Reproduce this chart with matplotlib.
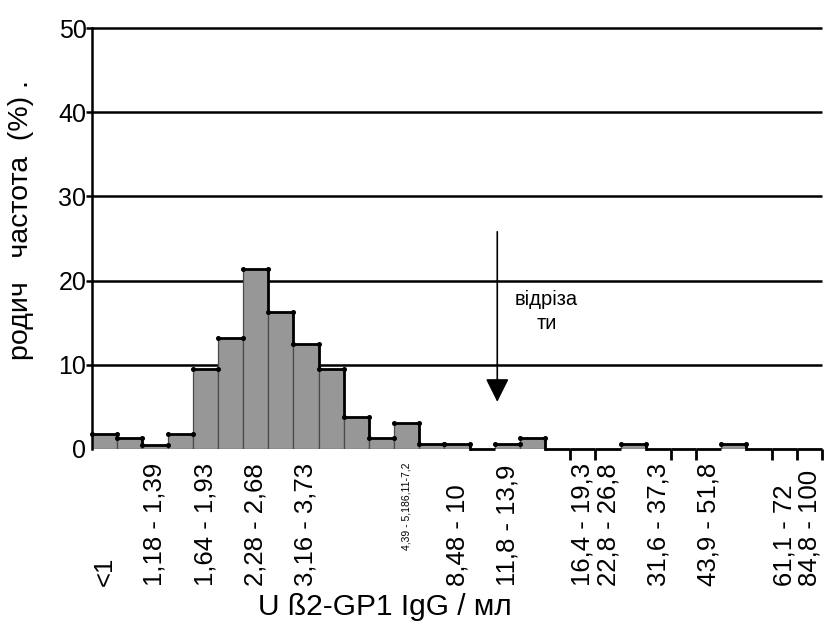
import matplotlib
matplotlib.use("Agg")
import matplotlib.pyplot as plt
import numpy as np

plt.rcParams['font.family'] = ['Liberation Sans', 'DejaVu Sans']

# Relative frequency (%) of each concentration bin
freq = [1.8, 1.3, 0.5, 1.8, 9.5, 13.2, 21.4, 16.3, 12.5, 9.5, 3.8, 1.3, 3.1,
        0.6, 0.6, 0.0, 0.6, 1.3, 0.0, 0.0, 0.0, 0.6, 0.0, 0.0, 0.0, 0.6,
        0.0, 0.0, 0.0]

# Bins that carry a range label, and the labels themselves
label_bins = [0, 2, 4, 6, 8, 14, 16, 19, 20, 22, 24, 27, 28]
bin_labels = ["<1", "1,18 - 1,39", "1,64 - 1,93", "2,28 - 2,68", "3,16 - 3,73",
              "8,48 - 10", "11,8 - 13,9", "16,4 - 19,3", "22,8 - 26,8",
              "31,6 - 37,3", "43,9 - 51,8", "61,1 - 72", "84,8 - 100"]
small_label_bin = 12
small_label = "4,39 - 5,186,11-7,2"

# Bin edges marked on the zero line
edge_marks = [19, 20, 23, 24, 27, 28, 29]

y_ticks = [0, 10, 20, 30, 40, 50]

# Cut-off arrow
cutoff_x = 16.1
cutoff_top = 25.8
cutoff_tip = 5.6

n = len(freq)
left = np.arange(n)

fig = plt.figure(figsize=(8.35, 6.26), dpi=100)
ax = fig.add_axes([92 / 835, 1 - 449 / 626, 730 / 835, 421 / 626])
ax.set_xlim(0, n)
ax.set_ylim(0, 50)

# horizontal grid lines, poking out left of the axis like tick marks
ax.hlines(y_ticks[1:], -0.25, n, colors='black', lw=1.8, zorder=1, clip_on=False)

# bars
ax.bar(left, freq, width=1.0, align='edge', color='#979797',
       edgecolor='#4a4a4a', linewidth=0.9, zorder=2)

# heavy step outline on the tops
for i, h in enumerate(freq):
    ax.plot([i, i + 1], [h, h], color='black', lw=2.0, zorder=3,
            clip_on=False, solid_capstyle='butt')
    nxt = freq[i + 1] if i + 1 < n else 0.0
    if nxt < h:
        ax.plot([i + 1, i + 1], [h, nxt], color='black', lw=2.0, zorder=3,
                clip_on=False)
    if h > 0:
        ax.plot([i, i + 1], [h, h], 'o', color='black', ms=2.6, zorder=4,
                clip_on=False)

# cut-off arrow and its caption
ax.annotate('', xy=(cutoff_x, cutoff_tip), xytext=(cutoff_x, cutoff_top),
            arrowprops=dict(arrowstyle='-|>,head_length=0.4,head_width=0.2',
                            mutation_scale=36, lw=1.2, color='black',
                            shrinkA=0, shrinkB=0), zorder=5)
ax.text(18.05, 16.3, "відріза\nти", ha='center', va='center', fontsize=14.5,
        linespacing=1.35, zorder=5)

# spines
for s in ['top', 'right', 'bottom']:
    ax.spines[s].set_visible(False)
ax.spines['left'].set_linewidth(1.8)
ax.spines['left'].set_zorder(4)

# y ticks
ax.set_yticks(y_ticks)
ax.set_yticklabels([str(v) for v in y_ticks], fontsize=18)
ax.tick_params(axis='y', length=0, pad=4)

# x axis: edge marks as minor ticks, range labels as text
ax.set_xticks([])
ax.set_xticks(edge_marks, minor=True)
ax.tick_params(axis='x', which='minor', length=8, width=2, direction='out',
               color='black')

xtr = ax.get_xaxis_transform()
for b, lab in zip(label_bins, bin_labels):
    ax.text(b + 0.5, (449 - 586) / 421, lab, transform=xtr, rotation=90,
            ha='center', va='bottom', fontsize=18.5)
ax.text(small_label_bin + 0.5, (449 - 462) / 421, small_label, transform=xtr,
        rotation=90, ha='center', va='top', fontsize=7.5)

# axis titles
fig.text(385 / 835, 1 - 607 / 626, "U ß2-GP1 IgG / мл", ha='center',
         va='center', fontsize=21.5)
fig.text(21 / 835, 1 - 220 / 626, "родич   частота  (%) .", rotation=90,
         ha='center', va='center', fontsize=20.5)

fig.savefig("out.png", dpi=100)
